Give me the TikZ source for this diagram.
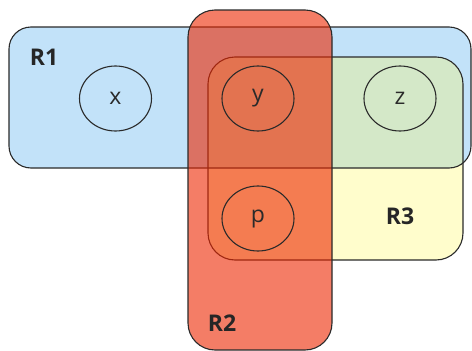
\documentclass[tikz,border=0pt]{standalone}
\usepackage{fontspec}
\setmainfont{Open Sans}
\usepackage{tikz}
\usetikzlibrary{
        positioning,
        shapes.geometric
    }
\definecolor{skyfill}{HTML}{C2E2F9}
\definecolor{lemonfill}{HTML}{FFFDCC}
\definecolor{sagefill}{HTML}{D4E8C8}
\definecolor{tomatofill}{HTML}{ED2600}
\definecolor{inkline}{HTML}{2A2A2A}
\tikzset{x=1pt,y=-1pt}
\tikzset{region/.style={draw=inkline,line width=1.1pt}}
\tikzset{elem/.style={ellipse,draw=inkline,line width=1.1pt,minimum width=72pt,minimum height=65pt,
        inner sep=0pt,font=\fontsize{23}{26}\selectfont,text=inkline}}
\tikzset{tag/.style={font=\fontsize{23}{26}\selectfont\bfseries,text=black!85}}

\begin{document}
\begin{tikzpicture}
                \useasboundingbox (0,0) rectangle (472,351);
                % R1 and R3 fills, green where they meet
                \fill[skyfill, rounded corners=22] (9,27) rectangle (471,168);
                \fill[lemonfill, rounded corners=27] (208,57) rectangle (463,260);
                \begin{scope}
                    \clip[rounded corners=22] (9,27) rectangle (471,168);
                    \fill[sagefill, rounded corners=27] (208,57) rectangle (463,260);
                \end{scope}
                \draw[region, rounded corners=22] (9,27) rectangle (471,168);
                \draw[region, rounded corners=27] (208,57) rectangle (463,260);
                % R2 lies over both
                \draw[region, fill=tomatofill, fill opacity=0.6, rounded corners=27] (188,10) rectangle (332,350);

                \node[elem] (x) at (115.5,98.5) {x};
                \node[elem] (y) [right=142.5pt of x.center, anchor=center] {y};
                \node[elem] (z) [right=142pt of y.center, anchor=center] {z};
                \node[elem] (p) [below=120pt of y.center, anchor=center] {p};

                \node[tag] (r1) at (44,57) {R1};
                \node[tag] (r2) at (222,323) {R2};
                \node[tag] (r3) at (400,216) {R3};
            \end{tikzpicture}
\end{document}
